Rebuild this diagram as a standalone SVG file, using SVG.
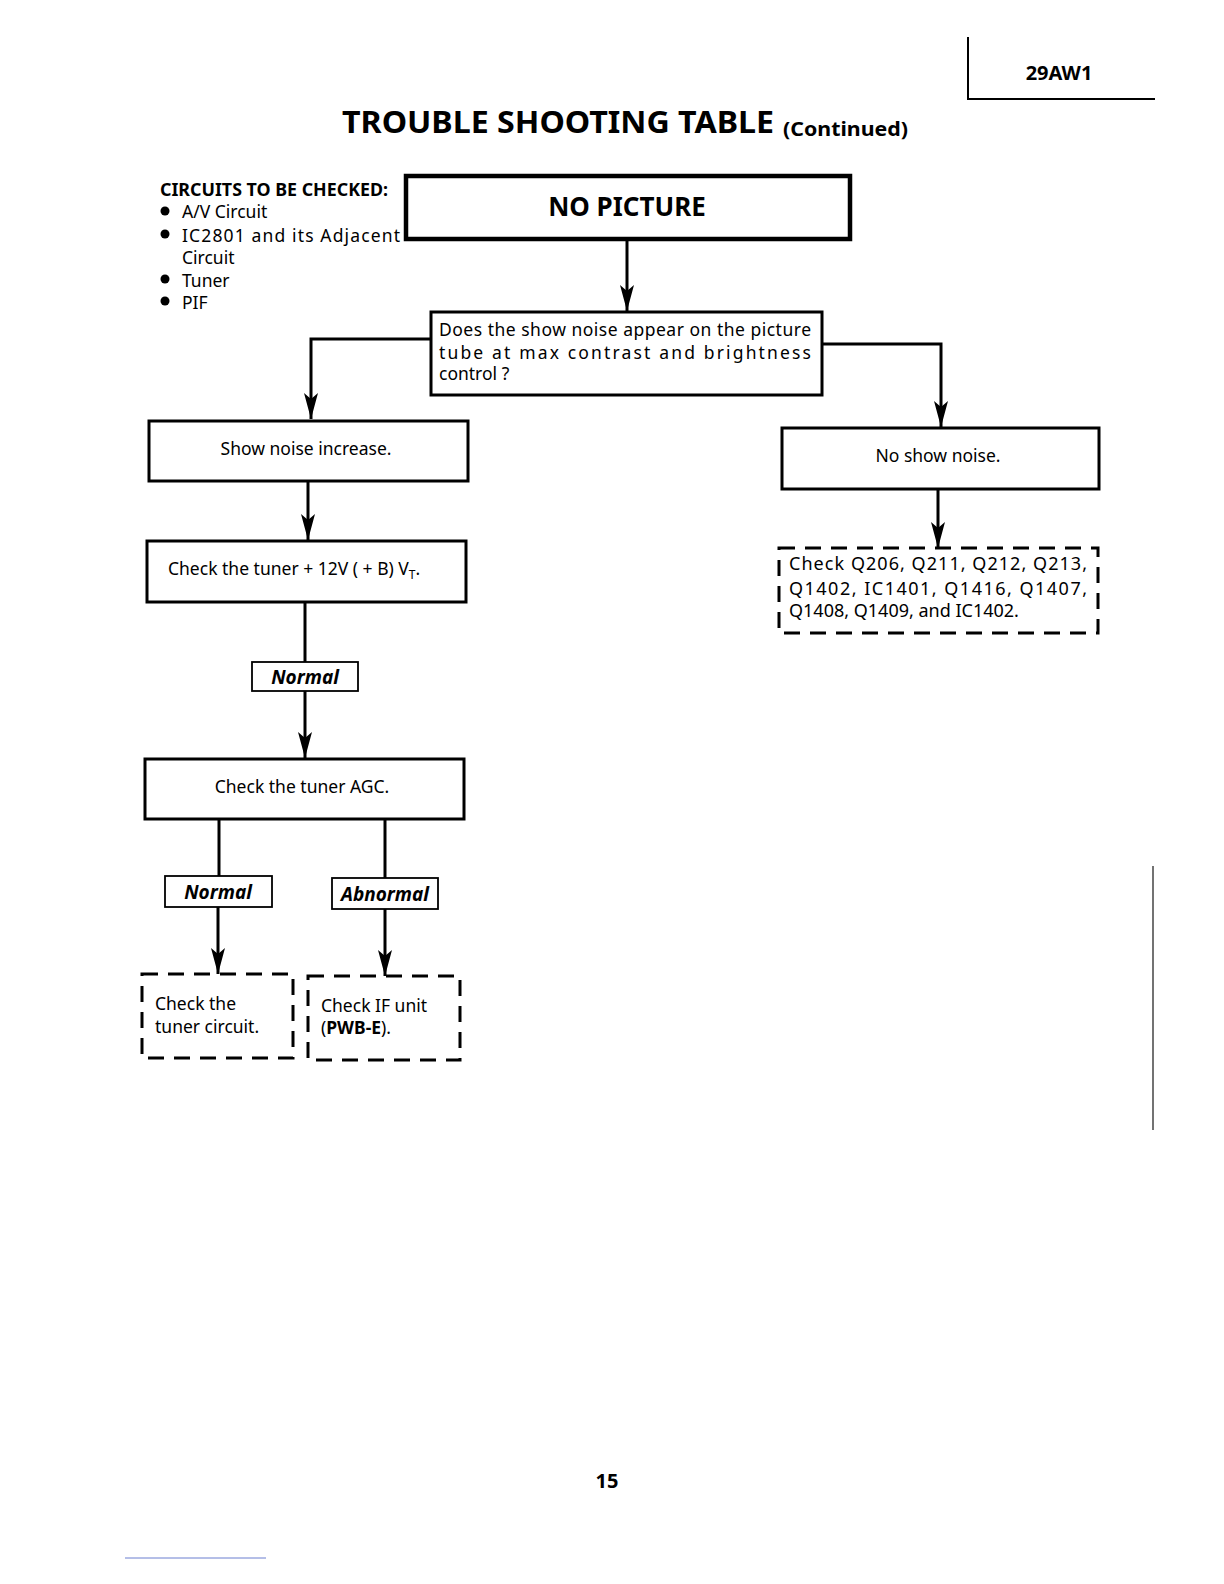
<svg xmlns="http://www.w3.org/2000/svg" width="1224" height="1584" viewBox="0 0 1224 1584">
<defs>
<marker id="ah" markerUnits="userSpaceOnUse" markerWidth="26" markerHeight="14" refX="26" refY="7" orient="auto" viewBox="0 0 26 14">
<path d="M0,0 L26,7 L0,14 L6,7 Z" fill="#000"/>
</marker>
</defs>
<style>
text{font-family:"Noto Sans","Open Sans","Liberation Sans",sans-serif;fill:#000}
.box{fill:#fff;stroke:#000;stroke-width:3}
.thick{fill:#fff;stroke:#000;stroke-width:4.5}
.dash{fill:none;stroke:#000;stroke-width:3;stroke-dasharray:16 10}
.lbl{fill:#fff;stroke:#000;stroke-width:1.8}
.ln{fill:none;stroke:#000;stroke-width:3}
.arr{fill:none;stroke:#000;stroke-width:3;marker-end:url(#ah)}
.t{font-size:17.5px}
.li{font-size:19px;font-weight:bold;font-style:italic}
</style>
<rect width="1224" height="1584" fill="#fff"/>

<g id="header">
<path d="M968,37 V99 H1155" fill="none" stroke="#000" stroke-width="2"/>
<text x="1059" y="80" font-size="20" font-weight="bold" text-anchor="middle">29AW1</text>
<text x="342" y="133" font-size="31" font-weight="bold" textLength="432" lengthAdjust="spacingAndGlyphs">TROUBLE SHOOTING TABLE</text>
<text x="783" y="136" font-size="20" font-weight="bold" textLength="125" lengthAdjust="spacingAndGlyphs">(Continued)</text>
</g>

<g id="circuits">
<text x="160" y="196" font-size="17" font-weight="bold" textLength="228" lengthAdjust="spacingAndGlyphs">CIRCUITS TO BE CHECKED:</text>
<circle cx="165" cy="211" r="4.5"/>
<circle cx="165" cy="234" r="4.5"/>
<circle cx="165" cy="279" r="4.5"/>
<circle cx="165" cy="301" r="4.5"/>
<text class="t" x="182" y="218">A/V Circuit</text>
<text class="t" x="182" y="242" textLength="218" lengthAdjust="spacing">IC2801 and its Adjacent</text>
<text class="t" x="182" y="264">Circuit</text>
<text class="t" x="182" y="287">Tuner</text>
<text class="t" x="182" y="309">PIF</text>
</g>

<g id="connectors">
<line class="arr" x1="627" y1="239" x2="627" y2="311"/>
<path class="arr" d="M431,339 H311 V419"/>
<path class="arr" d="M822,344 H941 V427"/>
<line class="arr" x1="308" y1="481" x2="308" y2="540"/>
<line class="arr" x1="938" y1="489" x2="938" y2="548"/>
<line class="ln" x1="305" y1="602" x2="305" y2="662"/>
<line class="arr" x1="305" y1="691" x2="305" y2="758"/>
<line class="ln" x1="219" y1="819" x2="219" y2="876"/>
<line class="ln" x1="385" y1="819" x2="385" y2="878"/>
<line class="arr" x1="218" y1="907" x2="218" y2="974"/>
<line class="arr" x1="385" y1="909" x2="385" y2="976"/>
</g>

<g id="no-picture">
<rect class="thick" x="406" y="176" width="444" height="63"/>
<text x="627" y="216" font-size="26" font-weight="bold" text-anchor="middle">NO PICTURE</text>
</g>

<g id="question">
<rect class="box" x="431" y="312" width="391" height="83"/>
<text class="t" x="439" y="336" textLength="372" lengthAdjust="spacing">Does the show noise appear on the picture</text>
<text class="t" x="439" y="359" textLength="372" lengthAdjust="spacing">tube at max contrast and brightness</text>
<text class="t" x="439" y="380">control ?</text>
</g>

<g id="show-noise">
<rect class="box" x="149" y="421" width="319" height="60"/>
<text class="t" x="306" y="455" text-anchor="middle">Show noise increase.</text>
</g>

<g id="no-show-noise">
<rect class="box" x="782" y="428" width="317" height="61"/>
<text class="t" x="938" y="462" text-anchor="middle">No show noise.</text>
</g>

<g id="check-q">
<rect class="dash" x="779" y="548" width="319" height="85"/>
<text x="789" y="570" font-size="18" textLength="298" lengthAdjust="spacing">Check Q206, Q211, Q212, Q213,</text>
<text x="789" y="595" font-size="18" textLength="298" lengthAdjust="spacing">Q1402, IC1401, Q1416, Q1407,</text>
<text x="789" y="617" font-size="18">Q1408, Q1409, and IC1402.</text>
</g>

<g id="check-12v">
<rect class="box" x="147" y="541" width="319" height="61"/>
<text class="t" x="168" y="575">Check the tuner  + 12V ( + B) V<tspan font-size="12" dy="4">T</tspan><tspan dy="-4">.</tspan></text>
</g>

<g id="normal-1">
<rect class="lbl" x="252" y="662" width="106" height="29"/>
<text class="li" x="305" y="684" text-anchor="middle">Normal</text>
</g>

<g id="check-agc">
<rect class="box" x="145" y="759" width="319" height="60"/>
<text class="t" x="302" y="793" text-anchor="middle">Check the tuner AGC.</text>
</g>

<g id="normal-2">
<rect class="lbl" x="165" y="876" width="107" height="31"/>
<text class="li" x="218" y="899" text-anchor="middle">Normal</text>
</g>

<g id="abnormal">
<rect class="lbl" x="332" y="878" width="106" height="31"/>
<text class="li" x="385" y="901" text-anchor="middle">Abnormal</text>
</g>

<g id="check-tuner-circuit">
<rect class="dash" x="142" y="974" width="151" height="84"/>
<text class="t" x="155" y="1010">Check the</text>
<text class="t" x="155" y="1033">tuner circuit.</text>
</g>

<g id="check-if">
<rect class="dash" x="308" y="976" width="152" height="84"/>
<text class="t" x="321" y="1012">Check IF unit</text>
<text class="t" x="321" y="1034">(<tspan font-weight="bold">PWB-E</tspan>).</text>
</g>

<g id="footer">
<text x="607" y="1488" font-size="20" font-weight="bold" text-anchor="middle">15</text>
<line x1="1153" y1="866" x2="1153" y2="1130" stroke="#444" stroke-width="1.5"/>
<line x1="125" y1="1558" x2="266" y2="1558" stroke="#6a7fd0" stroke-width="1"/>
</g>
</svg>
